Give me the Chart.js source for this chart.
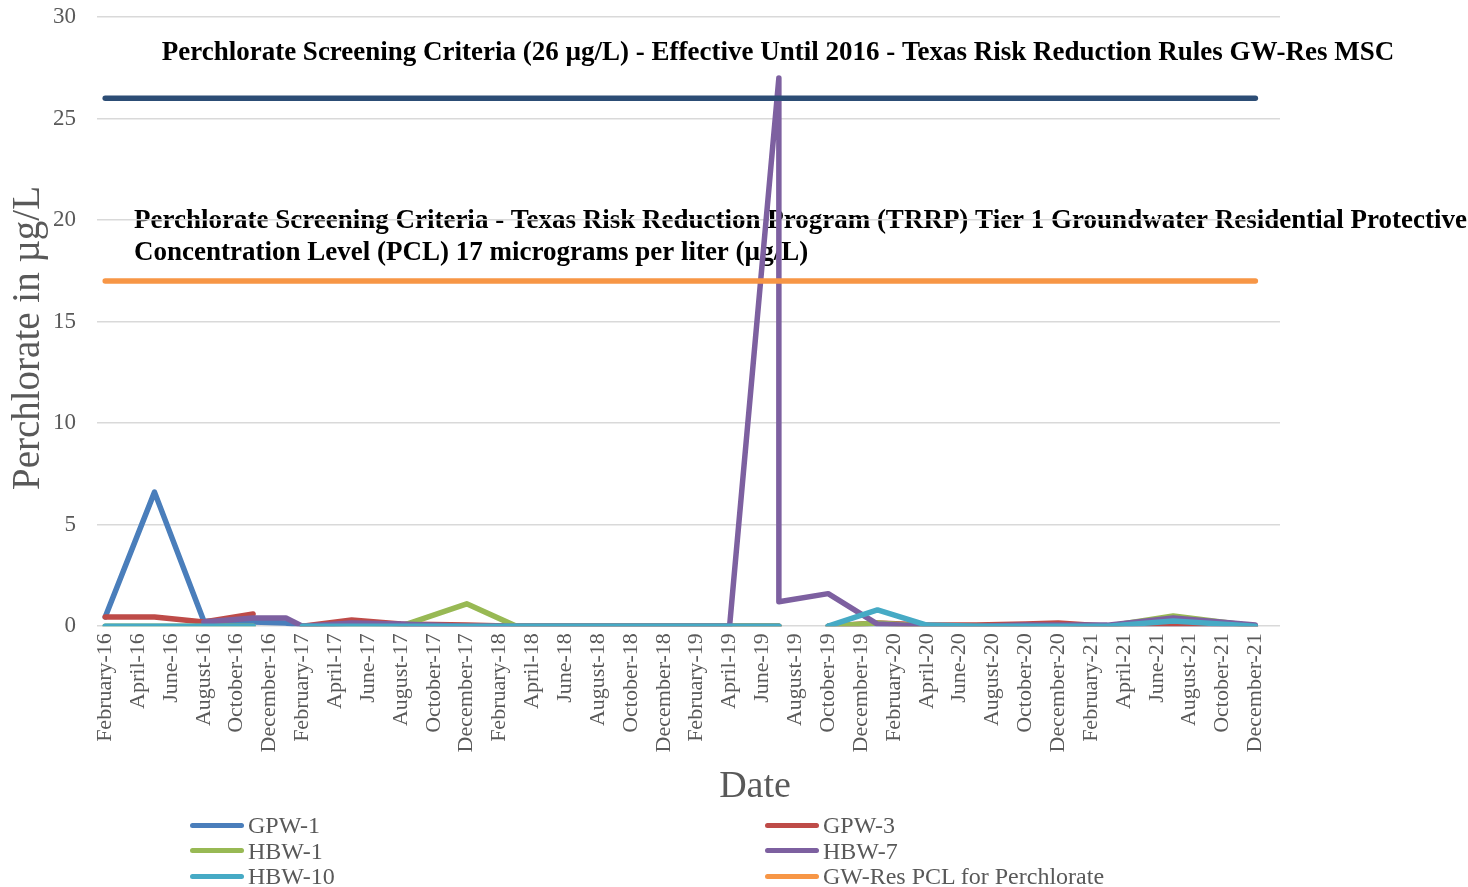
<!DOCTYPE html>
<html>
<head>
<meta charset="utf-8">
<script src="https://cdn.jsdelivr.net/npm/chart.js@4/dist/chart.umd.min.js"></script>
<style>
  html, body { margin: 0; padding: 0; background: #fff; }
  #wrap { position: relative; width: 1468px; height: 887px; }
  #legend { position: absolute; left: 190px; top: 812px; width: 1200px;
            font-family: "Liberation Serif", "Times New Roman", serif; font-size: 24px; color: #595959; }
  .item { position: absolute; height: 26px; line-height: 26px; white-space: nowrap; }
  .swatch { display: inline-block; width: 54px; height: 5px; border-radius: 3px; vertical-align: middle; margin-right: 4px; position: relative; top: -2px; }
</style>
</head>
<body>
<div id="wrap">
  <canvas id="chart" width="1468" height="887"></canvas>
  <div id="legend"></div>
</div>
<script>
// tick labels every two months, Feb-16 .. Dec-21
const tickLabels = [
  'February-16','April-16','June-16','August-16','October-16','December-16',
  'February-17','April-17','June-17','August-17','October-17','December-17',
  'February-18','April-18','June-18','August-18','October-18','December-18',
  'February-19','April-19','June-19','August-19','October-19','December-19',
  'February-20','April-20','June-20','August-20','October-20','December-20',
  'February-21','April-21','June-21','August-21','October-21','December-21'
];
const tickMonths = tickLabels.map((l, i) => i * 2);

// sample dates as months since Feb-16 (two samples in Jul-19)
const sampleMonths = [0, 3, 6, 9, 11, 12, 15, 18, 22, 25, 28, 31, 34, 38, 41, 41, 44, 47, 50, 53, 56, 58, 61, 65, 70];

const gpw1  = [0.45, 6.6, 0.25, 0.2, 0.15, 0, 0, 0, 0, 0, 0, 0, 0, 0, 0, null, 0, 0, 0, 0, 0, 0, 0, 0.1, 0];
const gpw3  = [0.45, 0.45, 0.2, 0.6, null, 0, 0.3, 0.1, 0.05, 0, 0, 0, 0, 0, 0, null, 0, 0.15, 0.05, 0.05, 0.1, 0.15, 0, 0.05, 0];
const hbw1  = [0, 0, 0, 0, null, 0, 0, 0, 1.1, 0, 0, 0, 0, 0, 0, null, 0, 0.15, 0, 0, 0, 0, 0, 0.5, 0];
const hbw7  = [null, null, 0.2, 0.4, 0.4, 0, 0.15, 0.1, 0, 0, 0, 0, 0, 0, 27, 1.2, 1.6, 0.1, 0, 0, 0.05, 0.05, 0.05, 0.4, 0.05];
const hbw10 = [0, 0, 0, 0, null, 0, 0, 0, 0, 0, 0, 0, 0, 0, 0, null, 0, 0.8, 0.05, 0, 0, 0, 0, 0.25, 0];

// screening criteria lines
const limitMonths = [0, 70];
const pclLimit = [17, 17];
const mscLimit = [26, 26];

const axisColor = '#595959';
const serif = '"Liberation Serif", "Times New Roman", serif';

function pts(months, vals) {
  return months.map((m, i) => ({ x: m, y: vals[i] }));
}

function series(label, months, vals, color, order, inLegend) {
  return {
    label: label,
    data: pts(months, vals),
    borderColor: color,
    backgroundColor: color,
    borderWidth: 5.5,
    borderCapStyle: 'round',
    borderJoinStyle: 'round',
    pointRadius: 0,
    tension: 0,
    spanGaps: false,
    order: order,
    inLegend: inLegend
  };
}

// text boxes sit under the grid and the lines
const notes = {
  id: 'notes',
  beforeDraw(chart) {
    const c = chart.ctx;
    c.save();
    c.fillStyle = '#000';
    c.font = 'bold 27px ' + serif;
    c.textBaseline = 'middle';
    c.textAlign = 'center';
    c.fillText('Perchlorate Screening Criteria (26 \u00b5g/L) - Effective Until 2016 - Texas Risk Reduction Rules GW-Res MSC', 778, 53);
    c.textAlign = 'left';
    c.fillText('Perchlorate Screening Criteria - Texas Risk Reduction Program (TRRP) Tier 1 Groundwater Residential Protective', 134, 221);
    c.fillText('Concentration Level (PCL) 17 micrograms per liter (\u00b5g/L)', 134, 253);
    c.restore();
  },
  // axis titles placed where the original has them
  afterDraw(chart) {
    const c = chart.ctx;
    c.save();
    c.fillStyle = axisColor;
    c.textAlign = 'center';
    c.textBaseline = 'middle';
    c.font = '38px ' + serif;
    c.fillText('Date', 755, 787);
    c.translate(29, 338);
    c.rotate(-Math.PI / 2);
    c.font = '39px ' + serif;
    c.fillText('Perchlorate in \u00b5g/L', 0, 0);
    c.restore();
  }
};

Chart.defaults.font.family = serif;

const chart = new Chart(document.getElementById('chart'), {
  type: 'line',
  data: {
    datasets: [
      series('GPW-1', sampleMonths, gpw1, '#4a7ebb', 7, true),
      series('GPW-3', sampleMonths, gpw3, '#be4b48', 6, true),
      series('HBW-1', sampleMonths, hbw1, '#98b954', 5, true),
      series('HBW-7', sampleMonths, hbw7, '#7d60a0', 4, true),
      series('HBW-10', sampleMonths, hbw10, '#46aac5', 3, true),
      series('GW-Res PCL for Perchlorate', limitMonths, pclLimit, '#f79646', 2, true),
      series('GW-Res MSC', limitMonths, mscLimit, '#2c4d75', 1, false)
    ]
  },
  options: {
    responsive: false,
    animation: false,
    layout: { padding: { left: 32, right: 188, top: 17, bottom: 127.6 } },
    plugins: {
      legend: { display: false },
      tooltip: { enabled: false }
    },
    scales: {
      x: {
        type: 'linear',
        min: -0.5,
        max: 71.5,
        grid: { display: false, drawTicks: false },
        border: { display: false },
        afterBuildTicks: axis => { axis.ticks = tickMonths.map(v => ({ value: v })); },
        afterFit: axis => { axis.paddingLeft = 0; axis.paddingRight = 0; },
        ticks: {
          autoSkip: false,
          minRotation: 90,
          maxRotation: 90,
          padding: 7,
          color: axisColor,
          font: { size: 22 },
          callback: v => tickLabels[v / 2]
        }
      },
      y: {
        min: 0,
        max: 30,
        grid: { color: '#d9d9d9', lineWidth: 1.5, drawTicks: false },
        border: { display: false },
        afterFit: axis => { axis.paddingTop = 0; axis.paddingBottom = 0; },
        ticks: { stepSize: 5, padding: 21, color: axisColor, font: { size: 23 } }
      }
    }
  },
  plugins: [notes]
});

// two-column legend below the chart
const legendEl = document.getElementById('legend');
chart.data.datasets.filter(d => d.inLegend).forEach((d, i) => {
  const item = document.createElement('div');
  item.className = 'item';
  item.style.left = (i % 2) * 575 + 'px';
  item.style.top = Math.floor(i / 2) * 25.5 + 'px';
  const sw = document.createElement('span');
  sw.className = 'swatch';
  sw.style.background = d.borderColor;
  item.appendChild(sw);
  item.appendChild(document.createTextNode(d.label));
  legendEl.appendChild(item);
});
</script>
</body>
</html>
